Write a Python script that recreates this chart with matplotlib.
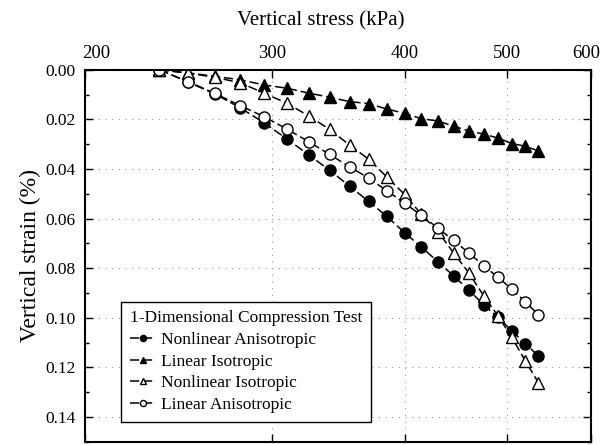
import matplotlib
matplotlib.use("Agg")
import matplotlib.pyplot as plt
from matplotlib.transforms import ScaledTranslation
from matplotlib.ticker import FixedLocator, FixedFormatter, NullLocator, MultipleLocator

plt.rcParams['font.family'] = ['Liberation Serif', 'DejaVu Serif']

# applied vertical stress (kPa), same load steps for every model
stress = [235, 250, 265, 280, 295, 310, 325, 340, 355, 370, 385,
          400, 415, 430, 445, 460, 475, 490, 505, 520, 535]

# vertical strain (%)
nonlin_aniso = [0, 0.0049, 0.0097, 0.0153, 0.0214, 0.0279, 0.0343, 0.0405, 0.0469, 0.0530, 0.0591,
                0.0656, 0.0715, 0.0773, 0.0831, 0.0888, 0.0947, 0.0998, 0.1052, 0.1105, 0.1153]
lin_iso = [0, 0.0012, 0.0026, 0.0040, 0.0061, 0.0074, 0.0094, 0.0110, 0.0128, 0.0136, 0.0158,
           0.0175, 0.0197, 0.0206, 0.0227, 0.0246, 0.0259, 0.0275, 0.0297, 0.0308, 0.0327]
nonlin_iso = [0, 0.0013, 0.0030, 0.0052, 0.0094, 0.0135, 0.0186, 0.0240, 0.0303, 0.0360, 0.0432,
              0.0502, 0.0583, 0.0652, 0.0738, 0.0819, 0.0911, 0.0992, 0.1079, 0.1174, 0.1262]
lin_aniso = [0, 0.0047, 0.0095, 0.0144, 0.0189, 0.0239, 0.0290, 0.0341, 0.0391, 0.0436, 0.0488,
             0.0537, 0.0587, 0.0638, 0.0688, 0.0738, 0.0790, 0.0836, 0.0885, 0.0935, 0.0988]

x_ticks = [200, 300, 400, 500, 600]
y_ticks = [0.00, 0.02, 0.04, 0.06, 0.08, 0.10, 0.12, 0.14]

fig = plt.figure(figsize=(6.04, 4.45), dpi=100)
ax = fig.add_axes([0.141, 0.007, 0.838, 0.836])

dash = (0, (6, 2.5))
common = dict(color='black', linestyle=dash, linewidth=1.1, markeredgecolor='black',
              markeredgewidth=1.0)
ax.plot(stress, nonlin_aniso, marker='o', markersize=8, markerfacecolor='black',
        label='Nonlinear Anisotropic', **common)
ax.plot(stress, lin_iso, marker='^', markersize=9, markerfacecolor='black',
        label='Linear Isotropic', **common)
ax.plot(stress, nonlin_iso, marker='^', markersize=9, markerfacecolor='white',
        label='Nonlinear Isotropic', **common)
ax.plot(stress, lin_aniso, marker='o', markersize=8, markerfacecolor='white',
        label='Linear Anisotropic', **common)

ax.set_xscale('log')
ax.set_xlim(200, 600)
ax.set_ylim(0.15, 0.0)

ax.xaxis.set_major_locator(FixedLocator(x_ticks))
ax.xaxis.set_major_formatter(FixedFormatter([str(t) for t in x_ticks]))
ax.xaxis.set_minor_locator(NullLocator())
ax.yaxis.set_major_locator(FixedLocator(y_ticks))
ax.yaxis.set_major_formatter(FixedFormatter(['%.2f' % t for t in y_ticks]))
ax.yaxis.set_minor_locator(MultipleLocator(0.01))

ax.xaxis.tick_top()
ax.xaxis.set_label_position('top')
ax.tick_params(axis='both', which='both', direction='in', top=True, bottom=True,
               left=True, right=True, width=1.0)
ax.tick_params(axis='both', which='major', length=6)
ax.tick_params(axis='x', labelsize=13.5, pad=6)
ax.tick_params(axis='y', labelsize=12.5, pad=7)
ax.tick_params(axis='y', which='minor', length=3)

# nudge the end stress labels inward so they stay inside the figure
fig.canvas.draw()
ticks = ax.xaxis.get_major_ticks()
first, last = ticks[0].label2, ticks[-1].label2
first.set_transform(first.get_transform() + ScaledTranslation(8 / 72, 0, fig.dpi_scale_trans))
last.set_transform(last.get_transform() + ScaledTranslation(-4 / 72, 0, fig.dpi_scale_trans))

for s in ax.spines.values():
    s.set_linewidth(1.5)

ax.grid(True, which='major', color='#999999', linestyle=(0, (1, 5)), linewidth=0.8)
ax.set_axisbelow(True)

ax.set_xlabel('Vertical stress (kPa)', fontsize=15)
ax.xaxis.set_label_coords(0.466, 1.12)
ax.set_ylabel('Vertical strain (%)', fontsize=17)
ax.yaxis.set_label_coords(-0.088, 0.5)

leg = ax.legend(loc='lower left', bbox_to_anchor=(0.071, 0.054), borderaxespad=0,
                title='1-Dimensional Compression Test', fontsize=12.5, title_fontsize=12.5,
                markerscale=0.55, handlelength=1.5, labelspacing=0.32, frameon=True,
                fancybox=False, edgecolor='black', framealpha=1, alignment='left',
                borderpad=0.5, handletextpad=0.3)
leg.get_frame().set_linewidth(1.0)

fig.savefig('out.png', dpi=100)
